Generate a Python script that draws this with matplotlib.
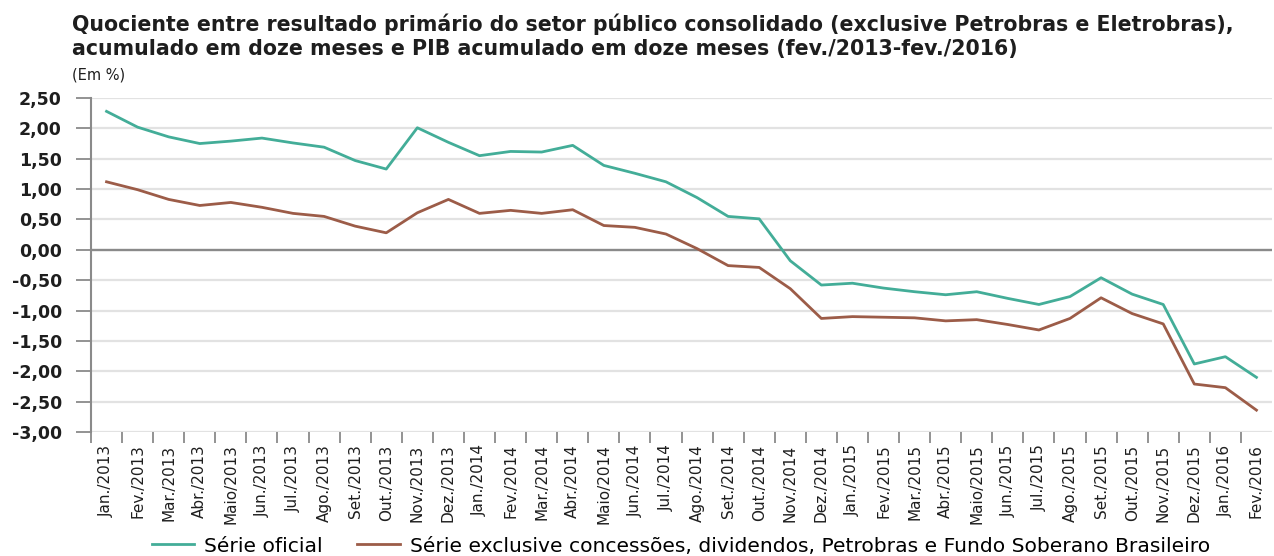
import matplotlib
matplotlib.use("Agg")
import matplotlib.pyplot as plt
from matplotlib.lines import Line2D

plt.rcParams.update({"font.family": ["DejaVu Sans"]})

GREEN = "#43ad98"
BROWN = "#9c5c48"
GRID = "#e2e2e2"
AXIS = "#8a8a8a"
INK = "#1e1e1e"

months = ["Jan.", "Fev.", "Mar.", "Abr.", "Maio", "Jun.", "Jul.", "Ago.", "Set.", "Out.", "Nov.", "Dez."]
labels = [f"{m}/{y}" for y in (2013, 2014, 2015) for m in months] + ["Jan./2016", "Fev./2016"]

oficial = [2.28, 2.02, 1.86, 1.75, 1.79, 1.84, 1.76, 1.69, 1.47, 1.33,
           2.01, 1.77, 1.55, 1.62, 1.61, 1.72, 1.39, 1.26, 1.12, 0.86,
           0.55, 0.51, -0.18, -0.58, -0.55, -0.63, -0.69, -0.74, -0.69, -0.80,
           -0.90, -0.77, -0.46, -0.73, -0.90, -1.88, -1.76, -2.10]
exclusive = [1.12, 0.99, 0.83, 0.73, 0.78, 0.70, 0.60, 0.55, 0.39, 0.28,
             0.61, 0.83, 0.60, 0.65, 0.60, 0.66, 0.40, 0.37, 0.26, 0.02,
             -0.26, -0.29, -0.64, -1.13, -1.10, -1.11, -1.12, -1.17, -1.15, -1.23,
             -1.32, -1.13, -0.79, -1.05, -1.22, -2.21, -2.27, -2.64]
yticks = [2.5, 2.0, 1.5, 1.0, 0.5, 0.0, -0.5, -1.0, -1.5, -2.0, -2.5, -3.0]

fig = plt.figure(figsize=(12.74, 5.56), dpi=100)
ax = fig.add_axes([91 / 1274, 1 - 432 / 556, (1272 - 91) / 1274, (432 - 98) / 556])

x = list(range(len(labels)))
for v in yticks:
    ax.axhline(v, color=AXIS if v == 0 else GRID, lw=1.7 if v == 0 else 1.6, zorder=1)
ax.plot(x, oficial, color=GREEN, lw=2.0, zorder=3)
ax.plot(x, exclusive, color=BROWN, lw=2.0, zorder=3)

ax.set_xlim(-0.5, len(labels) - 0.5)
ax.set_ylim(-3.0, 2.5)
ax.set_yticks(yticks)
ax.set_yticklabels([f"{v:.2f}".replace(".", ",") for v in yticks],
                   fontsize=12.5, fontweight="bold", color=INK)
ax.set_xticks(x)
ax.set_xticklabels(labels, rotation=90, fontsize=11, color=INK)
ax.set_xticks([i - 0.5 for i in x], minor=True)
ax.tick_params(axis="x", which="major", length=0, pad=9)
ax.tick_params(axis="x", which="minor", length=8, color=AXIS, width=1.3)
ax.tick_params(axis="y", length=11, color=AXIS, width=1.3, pad=10)

for s in ("top", "right", "bottom"):
    ax.spines[s].set_visible(False)
ax.spines["left"].set_color(AXIS)
ax.spines["left"].set_linewidth(1.5)

fig.text(72 / 1274, 1 - 31 / 556,
         "Quociente entre resultado primário do setor público consolidado (exclusive Petrobras e Eletrobras),",
         fontsize=14.8, fontweight="bold", color=INK, va="baseline")
fig.text(72 / 1274, 1 - 55 / 556,
         "acumulado em doze meses e PIB acumulado em doze meses (fev./2013-fev./2016)",
         fontsize=14.8, fontweight="bold", color=INK, va="baseline")
fig.text(72 / 1274, 1 - 79 / 556, "(Em %)", fontsize=10.5, color=INK, va="baseline")

handles = [Line2D([], [], color=GREEN, lw=2),
           Line2D([], [], color=BROWN, lw=2)]
fig.legend(handles, ["Série oficial",
                     "Série exclusive concessões, dividendos, Petrobras e Fundo Soberano Brasileiro"],
           loc="center", bbox_to_anchor=(681 / 1274, 1 - 546 / 556), ncol=2, frameon=False,
           fontsize=14.6, handlelength=2.1, columnspacing=1.7, handletextpad=0.5)

fig.savefig("out.png", dpi=100)
